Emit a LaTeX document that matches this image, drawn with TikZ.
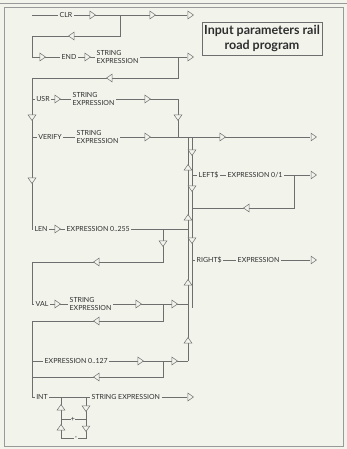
\documentclass[tikz,border=0pt]{standalone}
\usepackage{fontspec}
\setmainfont{Lato}
\usetikzlibrary{shapes.geometric}

\definecolor{paper}{HTML}{F2F4EC}
\definecolor{railgray}{HTML}{6E6E6E}
\definecolor{ink}{HTML}{2E2E2E}

\tikzset{
  track/.style={draw=railgray, line width=0.6pt},
  frame/.style={draw=railgray!70, line width=0.6pt},
  tri/.style={isosceles triangle, isosceles triangle apex angle=70, draw=railgray,
    fill=paper, inner sep=0pt, minimum height=5.5pt, line width=0.5pt},
  ar/.style={tri},
  al/.style={tri, rotate=180},
  ad/.style={tri, rotate=-90},
  au/.style={tri, rotate=90},
  kw/.style={font=\fontsize{7}{8}\selectfont, text=ink, inner sep=1.5pt},
  arg/.style={kw, anchor=west, align=left, font=\fontsize{7}{8.5}\selectfont},
}

\begin{document}
\begin{tikzpicture}[x=1pt, y=-1pt]
  % Page and frame
  \fill[paper] (0,0) rectangle (347,449);
  \useasboundingbox (0,0) rectangle (347,449);
  \draw[frame] (0,3) -- (347,3);
  \draw[frame] (4,7) rectangle (343,446);

  \node[draw=railgray, text=ink, font=\bfseries\fontsize{12.5}{15}\selectfont, align=center,
    minimum width=120pt, minimum height=33pt, inner sep=0pt] (title) at (262,38.5)
    {Input parameters rail\\road program};

  % Keywords and arguments
  \node[kw] (clr) at (66,15) {CLR};
  \node[kw] (end) at (69,57) {END};
  \node[arg] (endarg) at (95,57) {STRING\\EXPRESSION};
  \node[kw] (usr) at (43,99) {USR};
  \node[arg] (usrarg) at (71,99) {STRING\\EXPRESSION};
  \node[kw] (verify) at (50,137) {VERIFY};
  \node[arg] (verarg) at (75,137) {STRING\\EXPRESSION};
  \node[kw, anchor=west] (left) at (197,175) {LEFT\$};
  \node[kw, anchor=west] (leftarg) at (226,175) {EXPRESSION 0/1};
  \node[kw] (len) at (41,229) {LEN};
  \node[kw, anchor=west] (lenarg) at (65,229) {EXPRESSION 0..255};
  \node[kw, anchor=west] (right) at (195,260) {RIGHT\$};
  \node[kw, anchor=west] (rightarg) at (236,260) {EXPRESSION};
  \node[kw] (val) at (42,304) {VAL};
  \node[arg] (valarg) at (68,304) {STRING\\EXPRESSION};
  \node[kw, anchor=west] (byte) at (43,361) {EXPRESSION 0..127};
  \node[kw] (int) at (42,397) {INT};
  \node[kw, anchor=west] (intarg) at (90,397) {STRING EXPRESSION};

  % Tracks
  \draw[track] (32,15) -- (clr) -- (187,15);
  \draw[track] (120,15) |- (32,36) -- (32,57);
  \draw[track] (32,57) -- (end) -- (endarg) -- (187,57);
  \draw[track] (178,57) |- (32,78) -- (32,229);
  \draw[track] (32,99) -- (usr) -- (usrarg) -- (178,99) -- (178,137);
  \draw[track] (32,137) -- (verify) -- (verarg) -- (310,137);
  \draw[track] (188,137) -- (188,361);
  \draw[track] (192,137) -- (192,308);
  \draw[track] (192,175) -- (left) -- (leftarg) -- (310,175);
  \draw[track] (294,175) |- (192,208);
  \draw[track] (32,229) -- (len) -- (lenarg) -- (188,229);
  \draw[track] (163,229) |- (32,262) -- (32,304);
  \draw[track] (192,260) -- (right) -- (rightarg) -- (310,260);
  \draw[track] (32,304) -- (val) -- (valarg) -- (188,304);
  \draw[track] (163,304) |- (32,321) -- (32,397);
  \draw[track] (32,361) -- (byte) -- (188,361);
  \draw[track] (163,361) |- (32,377);
  \draw[track] (32,397) -- (int) -- (intarg) -- (187,397);
  \draw[track] (61,397) |- (86,438) -- (86,397);
  \draw[track] (61,419) -- (86,419);
  \node[kw, fill=paper, inner sep=0.3pt] (plus) at (73,419) {+};
  \node[kw, fill=paper, inner sep=0.3pt] (minus) at (76,438) {-};

  % Direction marks
  \foreach \x/\y [count=\i] in {92/15, 152/15, 190/15, 42/57, 87/57, 190/57, 57/99, 147/99,
      147/137, 222/137, 313/137, 313/175, 57/229, 313/260, 57/304, 138/304, 174/304,
      140/361, 174/361, 190/397}
    \node[ar] (r\i) at (\x,\y) {};
  \foreach \x/\y [count=\i] in {72/36, 110/78, 247/208, 97/262, 97/321, 97/377}
    \node[al] (l\i) at (\x,\y) {};
  \foreach \x/\y [count=\i] in {32/117, 178/117, 32/180, 192/152, 192/188, 192/240,
      163/243, 86/408, 86/428}
    \node[ad] (d\i) at (\x,\y) {};
  \foreach \x/\y [count=\i] in {188/168, 188/218, 188/283, 188/341, 61/408, 61/428}
    \node[au] (u\i) at (\x,\y) {};
\end{tikzpicture}
\end{document}
